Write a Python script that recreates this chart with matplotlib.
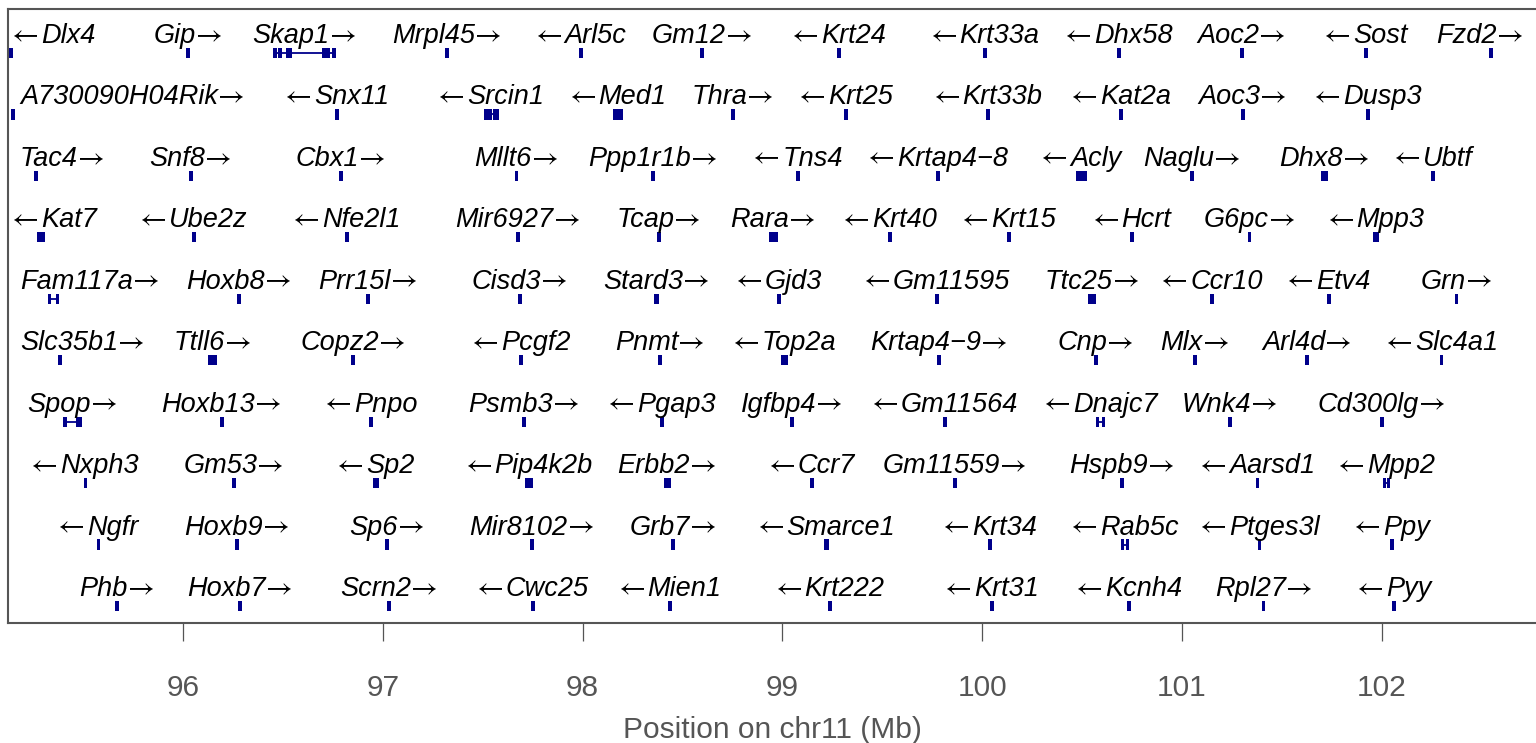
import numpy as np
import matplotlib
matplotlib.use('Agg')
from matplotlib import pyplot as plt
from matplotlib.patches import Rectangle

plt.rcParams['font.family'] = ['Liberation Sans', 'DejaVu Sans']

# gene tracks: name, strand, row, start/end (Mb)
row1 = ['Dlx4', 'Gip', 'Skap1', 'Mrpl45', 'Arl5c', 'Gm12', 'Krt24', 'Krt33a', 'Dhx58', 'Aoc2', 'Sost', 'Fzd2']
row2 = ['A730090H04Rik', 'Snx11', 'Srcin1', 'Med1', 'Thra', 'Krt25', 'Krt33b', 'Kat2a', 'Aoc3', 'Dusp3']
row3 = ['Tac4', 'Snf8', 'Cbx1', 'Mllt6', 'Ppp1r1b', 'Tns4', 'Krtap4−8', 'Acly', 'Naglu', 'Dhx8', 'Ubtf']
row4 = ['Kat7', 'Ube2z', 'Nfe2l1', 'Mir6927', 'Tcap', 'Rara', 'Krt40', 'Krt15', 'Hcrt', 'G6pc', 'Mpp3']
row5 = ['Fam117a', 'Hoxb8', 'Prr15l', 'Cisd3', 'Stard3', 'Gjd3', 'Gm11595', 'Ttc25', 'Ccr10', 'Etv4', 'Grn']
row6 = ['Slc35b1', 'Ttll6', 'Copz2', 'Pcgf2', 'Pnmt', 'Top2a', 'Krtap4−9', 'Cnp', 'Mlx', 'Arl4d', 'Slc4a1']
row7 = ['Spop', 'Hoxb13', 'Pnpo', 'Psmb3', 'Pgap3', 'Igfbp4', 'Gm11564', 'Dnajc7', 'Wnk4', 'Cd300lg']
row8 = ['Nxph3', 'Gm53', 'Sp2', 'Pip4k2b', 'Erbb2', 'Ccr7', 'Gm11559', 'Hspb9', 'Aarsd1', 'Mpp2']
row9 = ['Ngfr', 'Hoxb9', 'Sp6', 'Mir8102', 'Grb7', 'Smarce1', 'Krt34', 'Rab5c', 'Ptges3l', 'Ppy']
row10 = ['Phb', 'Hoxb7', 'Scrn2', 'Cwc25', 'Mien1', 'Krt222', 'Krt31', 'Kcnh4', 'Rpl27', 'Pyy']

strand1 = ['-', '+', '+', '+', '-', '+', '-', '-', '-', '+', '-', '+']
strand2 = ['+', '-', '-', '-', '+', '-', '-', '-', '+', '-']
strand3 = ['+', '+', '+', '+', '+', '-', '-', '-', '+', '+', '-']
strand4 = ['-', '-', '-', '+', '+', '+', '-', '-', '-', '+', '-']
strand5 = ['+', '+', '+', '+', '+', '-', '-', '+', '-', '-', '+']
strand6 = ['+', '+', '+', '-', '+', '-', '+', '+', '+', '+', '-']
strand7 = ['+', '+', '-', '+', '-', '+', '-', '-', '+', '+']
strand8 = ['-', '+', '-', '-', '+', '-', '+', '+', '-', '-']
strand9 = ['-', '+', '+', '+', '+', '-', '-', '-', '-', '-']
strand10 = ['+', '+', '+', '-', '-', '-', '-', '-', '+', '-']

start1 = [95.139, 96.025, 96.455, 97.321, 97.992, 98.598, 99.283, 100.014, 100.685, 101.300, 101.921, 102.547]
end1 = [95.139, 96.025, 96.761, 97.321, 97.992, 98.598, 99.283, 100.014, 100.685, 101.300, 101.921, 102.547]
start2 = [95.149, 96.771, 97.507, 98.152, 98.753, 99.318, 100.029, 100.695, 101.305, 101.931]
end2 = [95.149, 96.771, 97.577, 98.202, 98.753, 99.318, 100.029, 100.695, 101.305, 101.931]
start3 = [95.264, 96.040, 96.791, 97.669, 98.352, 99.078, 99.779, 100.469, 101.050, 101.696, 102.256]
end3 = [95.264, 96.040, 96.791, 97.669, 98.352, 99.078, 99.779, 100.525, 101.050, 101.731, 102.256]
start4 = [95.269, 96.055, 96.821, 97.677, 98.382, 98.933, 99.539, 100.134, 100.750, 101.340, 101.956]
end4 = [95.309, 96.055, 96.821, 97.677, 98.382, 98.978, 99.539, 100.134, 100.750, 101.340, 101.986]
start5 = [95.329, 96.280, 96.926, 97.687, 98.357, 98.983, 99.774, 100.530, 101.150, 101.736, 102.376]
end5 = [95.379, 96.280, 96.926, 97.687, 98.382, 98.983, 99.774, 100.570, 101.150, 101.736, 102.376]
start6 = [95.384, 96.125, 96.851, 97.692, 98.387, 98.993, 99.784, 100.570, 101.065, 101.626, 102.301]
end6 = [95.384, 96.170, 96.851, 97.692, 98.387, 99.029, 99.784, 100.570, 101.065, 101.626, 102.301]
start7 = [95.404, 96.195, 96.941, 97.707, 98.397, 99.048, 99.814, 100.570, 101.240, 102.001]
end7 = [95.494, 96.195, 96.941, 97.707, 98.397, 99.048, 99.814, 100.615, 101.240, 102.001]
start8 = [95.510, 96.255, 96.951, 97.712, 98.407, 99.148, 99.864, 100.700, 101.380, 102.006]
end8 = [95.510, 96.255, 96.981, 97.752, 98.442, 99.148, 99.864, 100.700, 101.380, 102.041]
start9 = [95.575, 96.270, 97.021, 97.747, 98.452, 99.208, 100.039, 100.700, 101.390, 102.051]
end9 = [95.575, 96.270, 97.021, 97.747, 98.452, 99.233, 100.039, 100.730, 101.390, 102.051]
start10 = [95.670, 96.285, 97.031, 97.752, 98.437, 99.238, 100.049, 100.735, 101.410, 102.061]
end10 = [95.670, 96.285, 97.031, 97.752, 98.437, 99.238, 100.049, 100.735, 101.410, 102.061]

# genes where the exon structure is visible
exons = {
    'Skap1': [(96.455, 96.465), (96.480, 96.490), (96.516, 96.526), (96.531, 96.541),
              (96.696, 96.736), (96.751, 96.761)],
    'Spop': [(95.404, 95.414), (95.464, 95.494)],
    'Fam117a': [(95.329, 95.337), (95.362, 95.379)],
    'Srcin1': [(97.507, 97.547), (97.557, 97.562), (97.572, 97.577)],
    'Dnajc7': [(100.570, 100.582), (100.600, 100.615)],
    'Rab5c': [(100.700, 100.708), (100.722, 100.730)],
    'Mpp2': [(102.006, 102.018), (102.030, 102.041)],
}

names = [row1, row2, row3, row4, row5, row6, row7, row8, row9, row10]
strands = [strand1, strand2, strand3, strand4, strand5, strand6, strand7, strand8, strand9, strand10]
starts = [start1, start2, start3, start4, start5, start6, start7, start8, start9, start10]
ends = [end1, end2, end3, end4, end5, end6, end7, end8, end9, end10]

xticks = [96, 97, 98, 99, 100, 101, 102]
xlim = (95.124, 102.772)

gene_col = '#00008B'
grey = '#555555'

W, H = 1536, 743
fig = plt.figure(figsize=(W / 100, H / 100), dpi=100)
ax = fig.add_axes([8 / W, (H - 623) / H, 1 - 8 / W, (623 - 9) / H])
ax.set_xlim(*xlim)
ax.set_ylim(9.277, -0.716)

px = (xlim[1] - xlim[0]) / (W - 8)  # Mb per pixel
min_w = 3.2 * px
box_h = 0.165

labels = []
for r in range(len(names)):
    for name, s, a, b in zip(names[r], strands[r], starts[r], ends[r]):
        if name in exons:
            ax.plot([a, b], [r, r], color=gene_col, lw=1.3, solid_capstyle='butt')
            for ea, eb in exons[name]:
                w = max(eb - ea, min_w)
                ax.add_patch(Rectangle(((ea + eb) / 2 - w / 2, r - box_h / 2), w, box_h,
                                       color=gene_col, lw=0))
        else:
            w = max(b - a, min_w)
            ax.add_patch(Rectangle(((a + b) / 2 - w / 2, r - box_h / 2), w, box_h,
                                   color=gene_col, lw=0))
        # name in italic Arial-like font, thin arrow from STIX
        tn = ax.text((a + b) / 2, r - 0.163, name, ha='left', va='baseline',
                     fontsize=19.5, style='italic', color='black')
        ta = ax.text((a + b) / 2, r - 0.163, '→' if s == '+' else '←',
                     ha='left', va='baseline', fontsize=21, family='STIXGeneral',
                     color='black')
        labels.append((tn, ta, s, (a + b) / 2))

# centre each label on its gene, keeping it inside the panel
fig.canvas.draw()
renderer = fig.canvas.get_renderer()
for tn, ta, s, xc in labels:
    wn = tn.get_window_extent(renderer).width * px
    wa = ta.get_window_extent(renderer).width * px
    gap = (0 if s == '+' else 2) * px
    total = wn + wa + gap
    left = xc - total / 2
    pad = (12 if s == '+' else 4) * px
    if left < xlim[0] + pad:
        left = xlim[0] + pad
    elif left + total > xlim[1] - pad:
        left = xlim[1] - pad - total
    if s == '+':
        tn.set_x(left)
        ta.set_x(left + wn + gap)
    else:
        ta.set_x(left)
        tn.set_x(left + wa + gap)

ax.set_yticks([])
ax.set_xticks(xticks)
ax.set_xticklabels([str(v) for v in xticks])
ax.tick_params(axis='x', length=13, width=0.9, color=grey, labelcolor=grey,
               labelsize=21.5, pad=23.5)
for side in ['top', 'left', 'bottom']:
    ax.spines[side].set_color(grey)
    ax.spines[side].set_linewidth(1.5)
ax.spines['right'].set_visible(False)
ax.set_xlabel('Position on chr11 (Mb)', fontsize=21.5, color=grey, labelpad=10.5)

fig.savefig('out.png', dpi=100)
